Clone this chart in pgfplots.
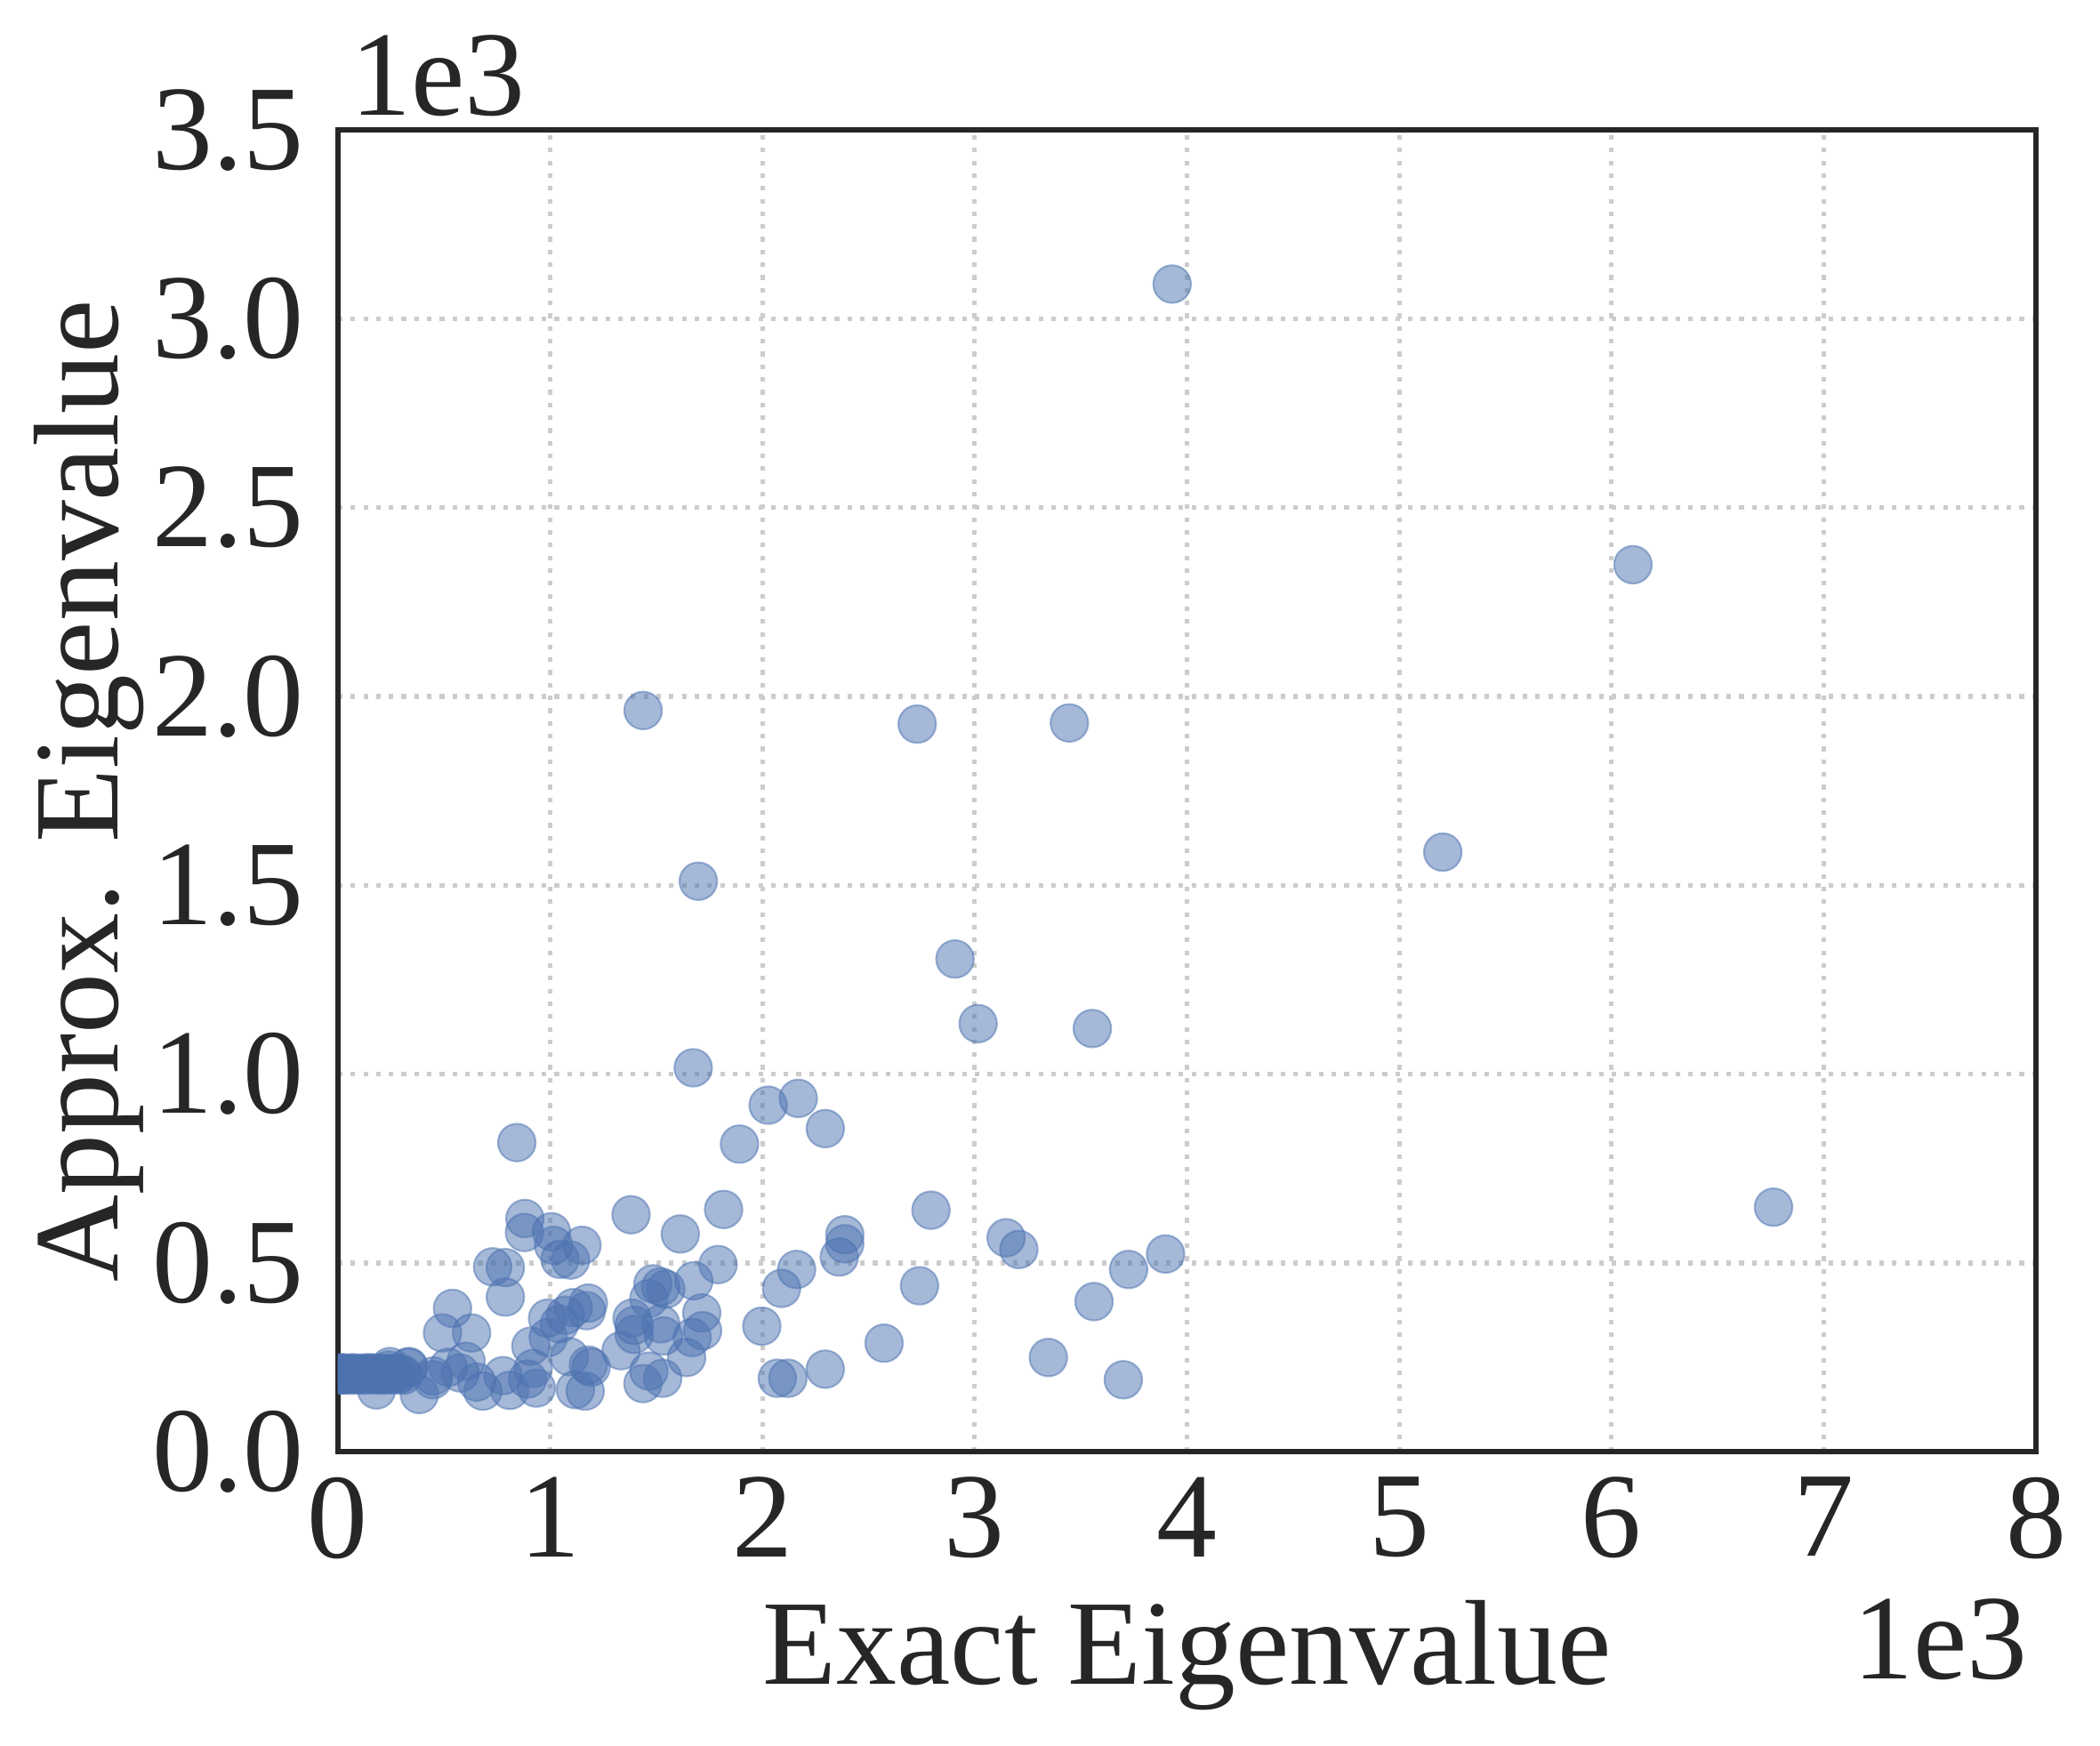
\documentclass[border=0pt]{standalone}
\usepackage{fontspec}
\setmainfont{Liberation Serif}
\usepackage{pgfplots}
\pgfplotsset{compat=1.18}
\definecolor{sbblue}{HTML}{4C72B0}
\definecolor{txt}{HTML}{262626}
\definecolor{gridc}{HTML}{CCCCCC}
\begin{document}
\fontsize{32.7}{39}\selectfont
\begin{tikzpicture}
\begin{axis}[
  name=ax,
  scale only axis,
  width=459.9pt, height=358pt,
  xmin=0, xmax=8, ymin=0, ymax=3.5,
  xtick={0,1,2,3,4,5,6,7,8},
  xticklabels={0,1,2,3,4,5,6,7,8},
  ytick={0,0.5,1,1.5,2,2.5,3,3.5},
  yticklabels={0.0,0.5,1.0,1.5,2.0,2.5,3.0,3.5},
  major tick length=0pt,
  scaled ticks=false,
  clip marker paths=true,
  xticklabel style={anchor=north, inner sep=0pt, yshift=-6.7pt, text=txt, font=\fontsize{32.7}{39}\selectfont},
  yticklabel style={anchor=east, inner sep=0pt, xshift=-9pt, text=txt, font=\fontsize{32.7}{39}\selectfont},
  grid=major,
  major grid style={color=gridc, line width=1.25pt, dash pattern=on 1.25pt off 2.2pt},
  axis line style={line width=1.5pt, color=txt},
]
\addplot[only marks, mark=*, mark size=5.1pt,
  mark options={fill=sbblue, draw=sbblue, fill opacity=0.5, draw opacity=0.5, line width=0.5pt}]
  coordinates {
(0.000,0.205) (0.005,0.208) (0.010,0.203) (0.015,0.210) (0.020,0.206)
(0.025,0.204) (0.030,0.209) (0.040,0.205) (0.050,0.207) (0.060,0.203)
(0.070,0.210) (0.080,0.206) (0.090,0.204) (0.100,0.208) (0.110,0.205)
(0.120,0.209) (0.130,0.203) (0.140,0.207) (0.150,0.210) (0.160,0.205)
(0.170,0.208) (0.180,0.204) (0.190,0.209) (0.200,0.206) (0.210,0.203)
(0.220,0.208) (0.230,0.205) (0.245,0.226) (0.250,0.207) (0.260,0.204)
(0.270,0.209) (0.280,0.205) (0.295,0.207) (0.310,0.203) (0.335,0.226)
(0.182,0.164) (0.384,0.152) (0.447,0.191) (0.239,0.217) (0.332,0.224)
(0.450,0.201) (0.520,0.224) (0.576,0.209) (0.604,0.240) (0.654,0.185)
(0.683,0.161) (0.778,0.202) (0.810,0.163) (0.894,0.193) (0.920,0.221)
(0.935,0.169) (0.909,0.280) (0.991,0.303) (0.988,0.354) (1.044,0.339)
(1.072,0.362) (1.109,0.382) (1.171,0.374) (1.180,0.394) (1.091,0.252)
(1.193,0.224) (1.180,0.230) (1.119,0.165) (1.165,0.161) (1.334,0.268)
(1.386,0.354) (1.396,0.335) (1.396,0.311) (1.521,0.339) (1.534,0.307)
(1.465,0.406) (1.484,0.445) (1.521,0.437) (1.545,0.431) (1.677,0.453)
(1.714,0.368) (1.718,0.321) (1.669,0.303) (1.643,0.250) (1.465,0.214)
(1.437,0.181) (1.530,0.195) (0.493,0.315) (0.540,0.380) (0.630,0.315)
(0.729,0.490) (0.789,0.488) (0.789,0.410) (0.843,0.819) (0.881,0.618)
(0.879,0.581) (1.006,0.583) (1.016,0.547) (1.150,0.547) (1.046,0.510)
(1.096,0.508) (1.381,0.628) (1.613,0.577) (1.817,0.642) (1.791,0.496)
(1.674,1.017) (2.027,0.918) (2.169,0.936) (2.296,0.856) (1.892,0.815)
(2.794,0.640) (2.388,0.575) (2.388,0.551) (2.362,0.516) (2.161,0.483)
(2.090,0.433) (2.740,0.440) (1.997,0.333) (2.573,0.288) (2.296,0.219)
(2.070,0.195) (2.120,0.195) (3.148,0.567) (3.208,0.536) (3.347,0.250)
(3.562,0.398) (3.725,0.483) (3.899,0.524) (3.700,0.191) (1.438,1.963)
(2.729,1.927) (3.446,1.930) (3.930,3.092) (6.101,2.349) (5.205,1.588)
(1.698,1.511) (2.907,1.305) (3.016,1.134) (3.554,1.121) (6.763,0.648)
  };
\end{axis}
\node[anchor=base, text=txt, inner sep=0pt] at ([yshift=-62.9pt]ax.south) {Exact Eigenvalue};
\node[anchor=base, rotate=90, text=txt, inner sep=0pt] at ([xshift=-59.7pt]ax.west) {Approx. Eigenvalue};
\node[anchor=base east, text=txt, inner sep=0pt] at ([xshift=-2.2pt,yshift=-61.4pt]ax.south east) {1e3};
\node[anchor=base west, text=txt, inner sep=0pt] at ([xshift=3.4pt,yshift=3.9pt]ax.north west) {1e3};
\path ([xshift=-91.5pt,yshift=-79.5pt]ax.south west) rectangle ([xshift=17.3pt,yshift=35.2pt]ax.north east);
\end{tikzpicture}
\end{document}
